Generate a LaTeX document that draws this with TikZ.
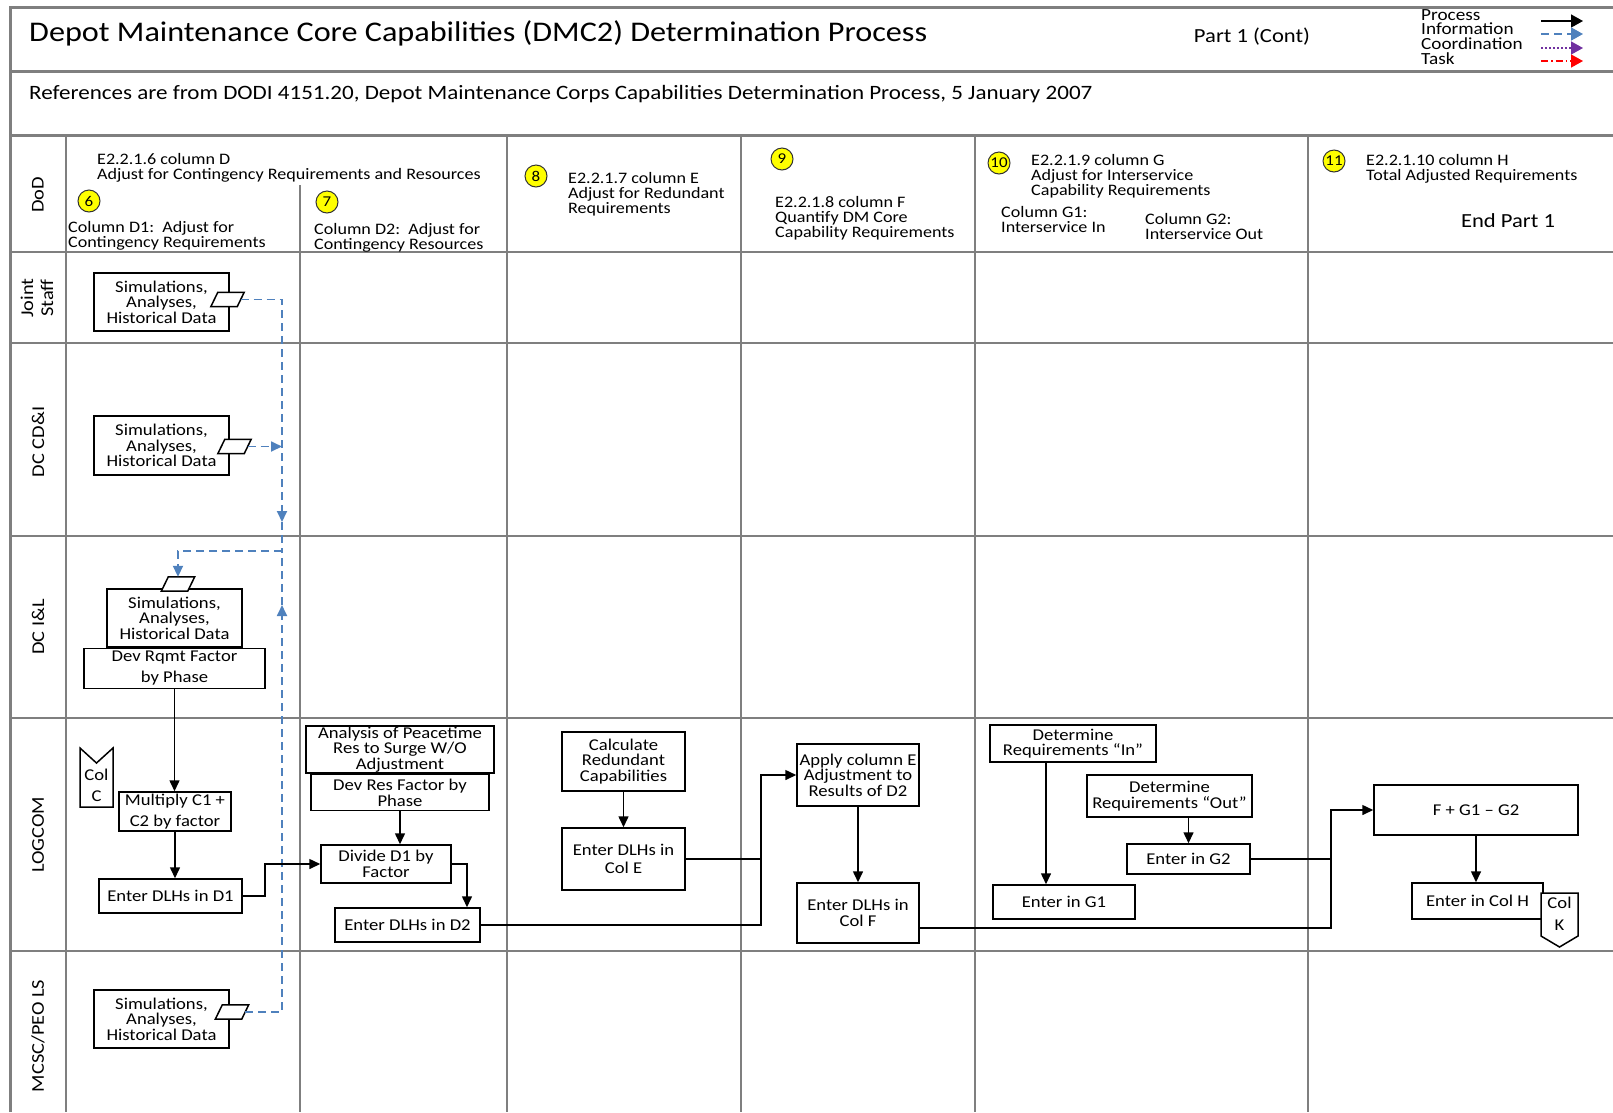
\documentclass[tikz,border=0pt]{standalone}
\usepackage{fontspec}
\setmainfont{Carlito}[FakeStretch=1.13]
\usetikzlibrary{positioning,arrows.meta}

\definecolor{gridgray}{HTML}{7F7F7F}
\definecolor{infoblue}{HTML}{4F81BD}
\definecolor{coordpurple}{HTML}{7030A0}
\definecolor{taskred}{HTML}{FF0000}
\definecolor{markyellow}{HTML}{FFFF00}

\newcommand{\titlefont}{\fontsize{28.5}{30}\selectfont}
\newcommand{\partfont}{\fontsize{20}{22}\selectfont}
\newcommand{\reffont}{\fontsize{20.4}{22}\selectfont}
\newcommand{\legendfont}{\fontsize{17}{15}\selectfont}
\newcommand{\hdfont}{\fontsize{16}{15}\selectfont}
\newcommand{\lanefont}{\fontsize{18}{20}\selectfont}
\newcommand{\bxfont}{\fontsize{16.5}{15.5}\selectfont}
\newcommand{\bxwide}{\fontsize{16.5}{21}\selectfont}
% slanted data symbol drawn round an invisible node
\newcommand{\filemark}[1]{\draw[shapeline] ([xshift=-3.5pt]#1.south west) -- ([xshift=3.5pt]#1.north west) -- ([xshift=3.5pt]#1.north east) -- ([xshift=-3.5pt]#1.south east) -- cycle;}

\tikzset{
  gridline/.style={draw=gridgray, line width=3pt},
  laneline/.style={draw=gridgray, line width=2.2pt},
  task/.style={draw, line width=1.5pt, fill=white, inner sep=1pt, align=center, font=\bxfont},
  shapeline/.style={draw, line width=1.5pt, fill=white},
  datafile/.style={rectangle, minimum width=26pt, minimum height=14pt, inner sep=0pt},
  proc/.style={line width=1.5pt},
  fwd/.style={proc, -{Triangle[length=11pt,width=10pt]}},
  infoline/.style={draw=infoblue, line width=1.8pt, dash pattern=on 8pt off 5pt},
  info/.style={infoline, -{Triangle[length=11pt,width=10pt,fill=infoblue]}},
  legendtip/.style={-{Triangle[length=12pt,width=13pt]}},
  coordline/.style={draw=coordpurple, line width=1.5pt, dash pattern=on 2pt off 2pt},
  taskline/.style={draw=taskred, line width=1.5pt, dash pattern=on 7pt off 3pt on 1.5pt off 3pt},
  stepnum/.style={circle, draw=black!80, fill=markyellow, line width=1pt, minimum size=22pt,
                  inner sep=0pt, font=\fontsize{15}{15}\selectfont},
  hdtext/.style={anchor=north west, align=left, inner sep=0pt, font=\hdfont},
  legendtext/.style={anchor=mid west, inner sep=0pt, font=\legendfont},
  lanename/.style={rotate=90, align=center, font=\lanefont},
}

\begin{document}
\begin{tikzpicture}[x=1pt, y=-1pt]
  \useasboundingbox (0,0) rectangle (1613,1112);

  % frame and swim lanes
  \draw[gridline] (10,1112) -- (10,7) -- (1613,7);
  \foreach \y in {71,135} \draw[gridline] (10,\y) -- (1613,\y);
  \foreach \y in {252,343,536,718,951} \draw[laneline] (10,\y) -- (1613,\y);
  \foreach \x in {66,507,741,975,1308} \draw[laneline] (\x,135) -- (\x,1112);
  \draw[laneline] (300,185) -- (300,1112);

  % title band and legend
  \node[anchor=mid west, inner sep=0pt, font=\titlefont] (title) at (29,39) {Depot Maintenance Core Capabilities (DMC2) Determination Process};
  \node[font=\partfont] (part) at (1252,37) {Part 1 (Cont)};
  \node[legendtext] (lgproc) at (1421,18) {Process};
  \node[legendtext] (lginfo) at (1421,32) {Information};
  \node[legendtext] (lgcoord) at (1421,47) {Coordination};
  \node[legendtext] (lgtask) at (1421,62) {Task};
  \draw[proc, legendtip] (1541,21) -- (1583,21);
  \draw[infoline, legendtip, infoblue] (1541,34) -- (1583,34);
  \draw[coordline, legendtip, coordpurple] (1541,48) -- (1583,48);
  \draw[taskline, legendtip, taskred] (1541,61) -- (1583,61);

  \node[anchor=mid west, inner sep=0pt, font=\reffont] (refs) at (29,97) {References are from DODI 4151.20, Depot Maintenance Corps Capabilities Determination Process, 5 January 2007};

  % lane names
  \node[lanename] (ldod) at (38,195) {DoD};
  \node[lanename] (ljs) at (37,298) {Joint\\Staff};
  \node[lanename] (lcdi) at (38,442) {DC CD\&I};
  \node[lanename] (lil) at (38,627) {DC I\&L};
  \node[lanename] (llog) at (38,835) {LOGCOM};
  \node[lanename] (lmcsc) at (38,1036) {MCSC/PEO LS};

  % column headers
  \node[hdtext] (hdd) at (97,153) {E2.2.1.6 column D\\Adjust for Contingency Requirements and Resources};
  \node[stepnum] (s6) at (89,201) {6};
  \node[hdtext] (hdd1) at (68,221) {Column D1:\ \ Adjust for\\Contingency Requirements};
  \node[stepnum] (s7) at (327,202) {7};
  \node[hdtext] (hdd2) at (314,223) {Column D2:\ \ Adjust for\\Contingency Resources};
  \node[stepnum] (s8) at (536,176) {8};
  \node[hdtext] (hde) at (568,172) {E2.2.1.7 column E\\Adjust for Redundant\\Requirements};
  \node[stepnum] (s9) at (782,159) {9};
  \node[hdtext] (hdf) at (775,196) {E2.2.1.8 column F\\Quantify DM Core\\Capability Requirements};
  \node[stepnum] (s10) at (999,163) {10};
  \node[hdtext] (hdg) at (1031,154) {E2.2.1.9 column G\\Adjust for Interservice\\Capability Requirements};
  \node[hdtext] (hdg1) at (1001,206) {Column G1:\\Interservice In};
  \node[hdtext] (hdg2) at (1145,213) {Column G2:\\Interservice Out};
  \node[stepnum] (s11) at (1334,161) {11};
  \node[hdtext] (hdh) at (1366,154) {E2.2.1.10 column H\\Total Adjusted Requirements};
  \node[font=\partfont] (endpart) at (1508,221) {End Part 1};

  % data sources
  \node[task, minimum width=135pt, minimum height=58pt] (jsbox) at (161.5,302) {Simulations,\\Analyses,\\Historical Data};
  \node[datafile] (jsfile) at (227.5,299.5) {};
  \filemark{jsfile}
  \node[task, minimum width=135pt, minimum height=59pt] (cdbox) at (161.5,445.5) {Simulations,\\Analyses,\\Historical Data};
  \node[datafile] (cdfile) at (234.5,446.5) {};
  \filemark{cdfile}
  \node[task, minimum width=135pt, minimum height=58pt] (ilbox) at (174.5,618) {Simulations,\\Analyses,\\Historical Data};
  \node[task, minimum width=181pt, minimum height=40pt, font=\bxwide, below=0pt of ilbox] (ilfactor) {Dev Rqmt Factor\\by Phase};
  \node[datafile] (ilfile) at (178,584) {};
  \filemark{ilfile}
  \node[task, minimum width=135pt, minimum height=58pt] (mcbox) at (161.5,1019) {Simulations,\\Analyses,\\Historical Data};
  \node[datafile] (mcfile) at (232,1012) {};
  \filemark{mcfile}

  \coordinate (tapdown) at (282,522);
  \coordinate (tapup) at (282,605);
  \coordinate (junction) at (282,551);
  \draw[info] (jsfile.east) -| (tapdown);
  \draw[infoline] (tapdown) -- (junction);
  \draw[info] (cdfile.east) -- (cdfile.east -| tapdown);
  \draw[info] (mcfile.east) -| (tapup);
  \draw[infoline] (tapup) -- (junction);
  \draw[info] (junction) -| (ilfile.north);

  % LOGCOM process
  \draw[shapeline] (80,748) -- (96.5,763) -- (113,748) -- (113,807) -- (80,807) -- cycle;
  \node[align=center, font=\bxwide, inner sep=0pt] (colc) at (96.5,785) {Col\\C};
  \node[task, minimum width=112pt, minimum height=39pt, font=\bxwide] (multiply) at (175,811.5) {Multiply C1 +\\C2 by factor};
  \node[task, minimum width=143pt, minimum height=34pt] (enterd1) at (170.5,896) {Enter DLHs in D1};
  \node[task, minimum width=188pt, minimum height=47pt] (peace) at (400,749.5) {Analysis of Peacetime\\Res to Surge W/O\\Adjustment};
  \node[task, minimum width=178pt, minimum height=36pt, below=0pt of peace] (resfactor) {Dev Res Factor by\\Phase};
  \node[task, minimum width=130pt, minimum height=38pt] (divide) at (386,864) {Divide D1 by\\Factor};
  \node[task, minimum width=145pt, minimum height=34pt] (enterd2) at (407.5,925) {Enter DLHs in D2};
  \node[task, minimum width=123pt, minimum height=59pt] (redund) at (623.5,761.5) {Calculate\\Redundant\\Capabilities};
  \node[task, minimum width=123pt, minimum height=62pt, font=\fontsize{16.5}{18}\selectfont] (entere) at (623.5,859) {Enter DLHs in\\Col E};
  \node[task, minimum width=122pt, minimum height=62pt] (apply) at (858,775) {Apply column E\\Adjustment to\\Results of D2};
  \node[task, minimum width=122pt, minimum height=60pt] (enterf) at (858,913) {Enter DLHs in\\Col F};
  \node[task, minimum width=166pt, minimum height=37pt] (detin) at (1073,743.5) {Determine\\Requirements “In”};
  \node[task, minimum width=142pt, minimum height=34pt] (enterg1) at (1064,902) {Enter in G1};
  \node[task, minimum width=165pt, minimum height=42pt] (detout) at (1169.5,796) {Determine\\Requirements “Out”};
  \node[task, minimum width=123pt, minimum height=30pt] (enterg2) at (1188.5,859) {Enter in G2};
  \node[task, minimum width=204pt, minimum height=50pt] (total) at (1476,810) {F + G1 – G2};
  \node[task, minimum width=131pt, minimum height=36pt] (enterh) at (1477.5,901) {Enter in Col H};
  \draw[shapeline] (1541,893) -- (1578,893) -- (1578,936) -- (1559.5,947) -- (1541,936) -- cycle;
  \node[align=center, font=\fontsize{16.5}{22}\selectfont, inner sep=0pt] (colk) at (1559.5,914) {Col\\K};

  \draw[fwd] (ilfactor.south) -- (ilfactor.south |- multiply.north);
  \draw[fwd] (multiply.south) -- (multiply.south |- enterd1.north);
  \draw[fwd] (enterd1.east) -- ++(22,0) |- (divide.west);
  \draw[fwd] (resfactor.south) -- (resfactor.south |- divide.north);
  \draw[fwd] (divide.east) -| ([xshift=59.5pt]enterd2.north);
  \draw[fwd] (enterd2.east) -- ++(280,0) |- (apply.west);
  \draw[fwd] (redund) -- (entere);
  \draw[proc] (entere.east) -- ++(75,0);
  \draw[fwd] (apply) -- (enterf);
  \draw[fwd] ([yshift=-15pt]enterf.east) -- ++(411,0) |- (total.west);
  \draw[proc] (enterg2.east) -- ++(80,0);
  \draw[fwd] ([xshift=-27pt]detin.south) -- ([xshift=-27pt]detin.south |- enterg1.north);
  \draw[fwd] (enterg2.north |- detout.south) -- (enterg2.north);
  \draw[fwd] (total.south) -- (total.south |- enterh.north);

\end{tikzpicture}
\end{document}
